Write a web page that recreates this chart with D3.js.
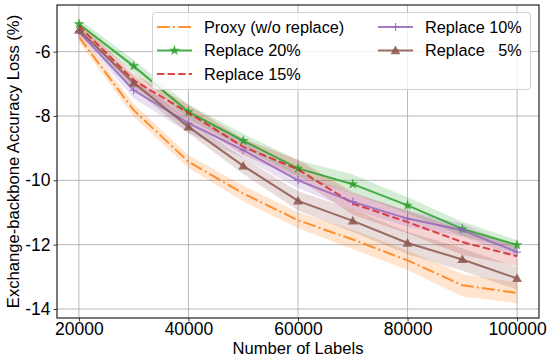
<!DOCTYPE html>
<html>
<head>
<meta charset="utf-8">
<script src="https://cdn.jsdelivr.net/npm/d3@7/dist/d3.min.js"></script>
<style>
  html, body { margin: 0; padding: 0; background: #fff; }
  svg { display: block; font-family: "Liberation Sans", Arial, sans-serif; }
</style>
</head>
<body>
<svg id="chart" width="548" height="358"></svg>
<script>
// Number of labels on the x axis
const labels = [20000, 30000, 40000, 50000, 60000, 70000, 80000, 90000, 100000];

// Mean accuracy loss (%) per series
const proxy     = [-5.54, -7.82, -9.42, -10.41, -11.24, -11.84, -12.49, -13.26, -13.50];
const replace20 = [-5.14, -6.45, -7.87, -8.77, -9.63, -10.12, -10.78, -11.51, -12.01];
const replace15 = [-5.20, -6.89, -7.90, -8.96, -9.66, -10.72, -11.30, -11.92, -12.36];
const replace10 = [-5.38, -7.20, -8.22, -9.06, -10.00, -10.67, -11.19, -11.55, -12.23];
const replace5  = [-5.33, -6.97, -8.34, -9.55, -10.64, -11.26, -11.95, -12.46, -13.05];

// Spread (half-width of the shaded band) per series
const proxySpread     = [0.15, 0.20, 0.20, 0.25, 0.25, 0.30, 0.30, 0.35, 0.32];
const replace20Spread = [0.15, 0.20, 0.22, 0.22, 0.25, 0.30, 0.25, 0.22, 0.15];
const replace15Spread = [0.12, 0.20, 0.25, 0.25, 0.30, 0.35, 0.35, 0.40, 0.30];
const replace10Spread = [0.12, 0.25, 0.30, 0.25, 0.25, 0.25, 0.25, 0.20, 0.15];
const replace5Spread  = [0.12, 0.20, 0.20, 0.25, 0.30, 0.35, 0.35, 0.35, 0.35];

const xTicks = [20000, 40000, 60000, 80000, 100000];
const yTicks = [-14, -12, -10, -8, -6];

const seriesNames = ["Proxy (w/o replace)", "Replace 20%", "Replace 15%", "Replace 10%", "Replace   5%"];

const series = [
  { name: seriesNames[0], values: proxy,     spread: proxySpread,     color: "#ff7f0e", dash: "12.8,3.2,2,3.2", marker: null },
  { name: seriesNames[1], values: replace20, spread: replace20Spread, color: "#2ca02c", dash: null,             marker: "star" },
  { name: seriesNames[2], values: replace15, spread: replace15Spread, color: "#d62728", dash: "7.4,3.2",        marker: null },
  { name: seriesNames[3], values: replace10, spread: replace10Spread, color: "#9467bd", dash: null,             marker: "plus" },
  { name: seriesNames[4], values: replace5,  spread: replace5Spread,  color: "#8c564b", dash: null,             marker: "triangle" }
];

const svg = d3.select("#chart");
const plot = { left: 57, right: 539, top: 5, bottom: 318 };

const x = d3.scaleLinear().domain([16000, 104000]).range([plot.left, plot.right]);
const y = d3.scaleLinear().domain([-14.28, -4.55]).range([plot.bottom, plot.top]);

// Grid
const grid = svg.append("g");
grid.selectAll("line.gx").data(xTicks).join("line")
  .attr("x1", d => x(d)).attr("x2", d => x(d))
  .attr("y1", plot.top).attr("y2", plot.bottom)
  .attr("stroke", "#b0b0b0").attr("stroke-width", 0.9);
grid.selectAll("line.gy").data(yTicks).join("line")
  .attr("x1", plot.left).attr("x2", plot.right)
  .attr("y1", d => y(d)).attr("y2", d => y(d))
  .attr("stroke", "#b0b0b0").attr("stroke-width", 0.9);

// Bands
const area = d3.area()
  .x((d, i) => x(labels[i]))
  .y0(d => y(d[0] - d[1]))
  .y1(d => y(d[0] + d[1]));
const bands = svg.append("g");
series.forEach(s => {
  bands.append("path")
    .datum(s.values.map((v, i) => [v, s.spread[i]]))
    .attr("d", area)
    .attr("fill", s.color)
    .attr("fill-opacity", 0.2)
    .attr("stroke", "none");
});

// Lines
const line = d3.line().x((d, i) => x(labels[i])).y(d => y(d));
const lines = svg.append("g");

const starSym = d3.symbol().type(d3.symbolStar).size(36);
const triSym = d3.symbol().type(d3.symbolTriangle).size(42);

function drawMarker(g, m, cx, cy, color) {
  if (m === "star") {
    g.append("path").attr("d", starSym()).attr("transform", `translate(${cx},${cy})`)
      .attr("fill", color).attr("fill-opacity", 0.85);
  } else if (m === "triangle") {
    g.append("path").attr("d", triSym()).attr("transform", `translate(${cx},${cy + 0.8})`)
      .attr("fill", color).attr("fill-opacity", 0.85);
  } else if (m === "plus") {
    g.append("path").attr("d", `M${cx - 4},${cy}H${cx + 4}M${cx},${cy - 4}V${cy + 4}`)
      .attr("stroke", color).attr("stroke-opacity", 0.85).attr("stroke-width", 1.2);
  }
}

series.forEach(s => {
  lines.append("path")
    .datum(s.values)
    .attr("d", line)
    .attr("fill", "none")
    .attr("stroke", s.color)
    .attr("stroke-opacity", 0.85)
    .attr("stroke-width", 2)
    .attr("stroke-dasharray", s.dash);
  if (s.marker) {
    s.values.forEach((v, i) => drawMarker(lines, s.marker, x(labels[i]), y(v), s.color));
  }
});

// Axes frame
svg.append("rect")
  .attr("x", plot.left).attr("y", plot.top)
  .attr("width", plot.right - plot.left).attr("height", plot.bottom - plot.top)
  .attr("fill", "none").attr("stroke", "#222").attr("stroke-width", 1.2);

// Axes with ticks
const xAxis = d3.axisBottom(x).tickValues(xTicks).tickFormat(d3.format("d")).tickSizeInner(3.5).tickSizeOuter(0).tickPadding(1.5);
const yAxis = d3.axisLeft(y).tickValues(yTicks).tickFormat(d => String(d)).tickSizeInner(3.5).tickSizeOuter(0).tickPadding(3);

const gx = svg.append("g").attr("transform", `translate(0,${plot.bottom})`).call(xAxis);
const gy = svg.append("g").attr("transform", `translate(${plot.left},0)`).call(yAxis);
[gx, gy].forEach(g => {
  g.select(".domain").remove();
  g.selectAll(".tick line").attr("stroke", "#222").attr("stroke-width", 0.9);
  g.selectAll(".tick text").attr("fill", "#000")
    .style("font-family", "'Liberation Sans', Arial, sans-serif").style("font-size", "17.5px");
});

// Axis titles
svg.append("text")
  .attr("x", (plot.left + plot.right) / 2).attr("y", 354)
  .attr("text-anchor", "middle").attr("font-size", 16.6).attr("fill", "#000")
  .text("Number of Labels");
svg.append("text")
  .attr("transform", `translate(18.5,${(plot.top + plot.bottom) / 2}) rotate(-90)`)
  .attr("text-anchor", "middle").attr("font-size", 16.6).attr("fill", "#000")
  .text("Exchange-backbone Accuracy Loss (%)");

// Legend
const legend = svg.append("g");
legend.append("rect")
  .attr("x", 152.5).attr("y", 12.5).attr("width", 378).attr("height", 77)
  .attr("rx", 3).attr("ry", 3)
  .attr("fill", "#fff").attr("fill-opacity", 0.8)
  .attr("stroke", "#d0d0d0").attr("stroke-width", 1);

const legendPos = [
  { hx: 157, tx: 204, ty: 27 },
  { hx: 157, tx: 204, ty: 50.5 },
  { hx: 157, tx: 204, ty: 74 },
  { hx: 378, tx: 425, ty: 27 },
  { hx: 378, tx: 425, ty: 50.5 }
];
series.forEach((s, i) => {
  const p = legendPos[i];
  legend.append("line")
    .attr("x1", p.hx).attr("x2", p.hx + 35)
    .attr("y1", p.ty).attr("y2", p.ty)
    .attr("stroke", s.color).attr("stroke-opacity", 0.85)
    .attr("stroke-width", 2).attr("stroke-dasharray", s.dash);
  if (s.marker) drawMarker(legend, s.marker, p.hx + 17.5, p.ty, s.color);
  legend.append("text")
    .attr("x", p.tx).attr("y", p.ty).attr("dy", "0.35em")
    .attr("font-size", 16.3).attr("fill", "#000")
    .style("white-space", "pre")
    .text(s.name);
});
</script>
</body>
</html>
